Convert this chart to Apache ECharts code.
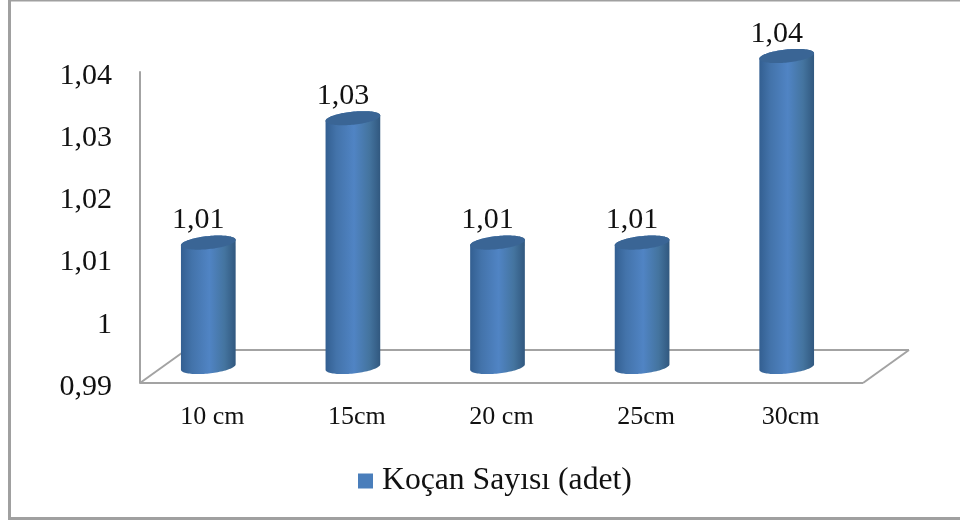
<!DOCTYPE html>
<html>
<head>
<meta charset="utf-8">
<style>html,body{margin:0;padding:0;background:#fff}#chart{width:960px;height:522px}</style>
<script src="https://cdn.jsdelivr.net/npm/echarts@6/dist/echarts.min.js"></script>
</head>
<body>
<div id="chart"></div>
<script>
const categories = ['10 cm', '15cm', '20 cm', '25cm', '30cm'];
const tickLabels = ['0,99', '1', '1,01', '1,02', '1,03', '1,04'];
const kocanValues = [1.01, 1.03, 1.01, 1.01, 1.04];
const valueLabels = ['1,01', '1,03', '1,01', '1,01', '1,04'];
const seriesName = 'Koçan Sayısı (adet)';

const axisMin = 0.99;
const axisMax = 1.04;
const axisStep = 0.01;
const serif = '"Liberation Serif", serif';

// Pseudo-3D placement of the cylinders relative to the floor plane
const cylShiftX = -4, cylShiftY = -16;
const cylRx = 27.5, cylRy = 6.5, cylTilt = -6 * Math.PI / 180;
const floorDx = 46, floorDy = -33;

function ellipsePoint(cx, cy, t) {
  const ex = cylRx * Math.cos(t), ey = cylRy * Math.sin(t);
  return [cx + ex * Math.cos(cylTilt) - ey * Math.sin(cylTilt),
          cy + ex * Math.sin(cylTilt) + ey * Math.cos(cylTilt)];
}

function renderCylinder(params, api) {
  const i = api.value(0);
  const top = api.coord([i, api.value(1)]);
  const base = api.coord([i, axisMin]);
  const cx = top[0] + cylShiftX;
  const topY = top[1] + cylShiftY, baseY = base[1] + cylShiftY;

  const steps = 48, body = [], cap = [];
  for (let k = 0; k <= steps; k++) body.push(ellipsePoint(cx, baseY, Math.PI * k / steps));
  for (let k = 0; k <= steps; k++) body.push(ellipsePoint(cx, topY, Math.PI + Math.PI * k / steps));
  for (let k = 0; k < steps * 2; k++) cap.push(ellipsePoint(cx, topY, Math.PI * k / steps));

  return {
    type: 'group',
    children: [
      {
        type: 'polygon',
        shape: { points: body },
        style: {
          fill: new echarts.graphic.LinearGradient(0, 0, 1, 0, [
            { offset: 0, color: '#335f91' },
            { offset: 0.2, color: '#4373aa' },
            { offset: 0.52, color: '#5084c4' },
            { offset: 0.8, color: '#44749f' },
            { offset: 1, color: '#31587f' }
          ])
        }
      },
      { type: 'polygon', shape: { points: cap }, style: { fill: '#3a6595' } },
      {
        type: 'text',
        style: {
          text: valueLabels[i],
          x: cx - 10,
          y: topY - 7,
          align: 'center',
          verticalAlign: 'bottom',
          font: '30px ' + serif,
          fill: '#111'
        }
      }
    ]
  };
}

// Floor parallelogram behind the cylinders, anchored to the plot's corners
function renderFloor(params, api) {
  const sys = params.coordSys;
  const y0 = api.coord([0, axisMin])[1];
  const lo = [sys.x, y0];
  const hi = [sys.x + sys.width, y0];
  const line = { stroke: '#a3a3a3', lineWidth: 2, fill: 'none' };
  const seg = (a, b) => ({ type: 'line', shape: { x1: a[0], y1: a[1], x2: b[0], y2: b[1] }, style: line });
  const backLo = [lo[0] + floorDx, lo[1] + floorDy];
  const backHi = [hi[0] + floorDx, hi[1] + floorDy];
  return { type: 'group', children: [seg(lo, backLo), seg(backLo, backHi), seg(hi, backHi), seg(lo, hi)] };
}

const chart = echarts.init(document.getElementById('chart'), null, { renderer: 'canvas' });
chart.setOption({
  animation: false,
  backgroundColor: '#ffffff',
  graphic: [{
    type: 'rect',
    silent: true,
    z: -10,
    shape: { x: 9.5, y: 0, width: 960, height: 518.5 },
    style: { fill: '#fff', stroke: '#a0a0a0', lineWidth: 3 }
  }],
  grid: { left: 140, right: 97, top: 72, bottom: 139, containLabel: false },
  legend: {
    left: 358,
    top: 465,
    padding: 0,
    itemWidth: 15,
    itemHeight: 15,
    itemGap: 0,
    icon: 'rect',
    data: [seriesName],
    textStyle: { fontFamily: serif, fontSize: 31.7, color: '#111', padding: [0, 0, 0, 4] }
  },
  xAxis: {
    type: 'category',
    data: categories,
    boundaryGap: true,
    axisLine: { show: false },
    axisTick: { show: false },
    axisLabel: { fontFamily: serif, fontSize: 26, color: '#111', margin: 21 }
  },
  yAxis: {
    type: 'value',
    min: axisMin,
    max: axisMax,
    interval: axisStep,
    splitLine: { show: false },
    axisTick: { show: false },
    axisLine: { show: true, lineStyle: { color: '#a3a3a3', width: 2 } },
    axisLabel: {
      fontFamily: serif,
      fontSize: 30,
      color: '#111',
      margin: 28,
      lineHeight: 30,
      verticalAlign: 'top',
      padding: [-11, 0, 0, 0],
      formatter: (v) => tickLabels[Math.round((v - axisMin) / axisStep)]
    }
  },
  series: [
    {
      type: 'custom',
      name: 'floor',
      silent: true,
      z: 1,
      renderItem: renderFloor,
      encode: { x: 0, y: 1 },
      data: [[0, axisMin]]
    },
    {
      type: 'custom',
      name: seriesName,
      z: 2,
      itemStyle: { color: '#4a7ebb' },
      renderItem: renderCylinder,
      encode: { x: 0, y: 1 },
      data: kocanValues.map((v, i) => [i, v])
    }
  ]
});
</script>
</body>
</html>
